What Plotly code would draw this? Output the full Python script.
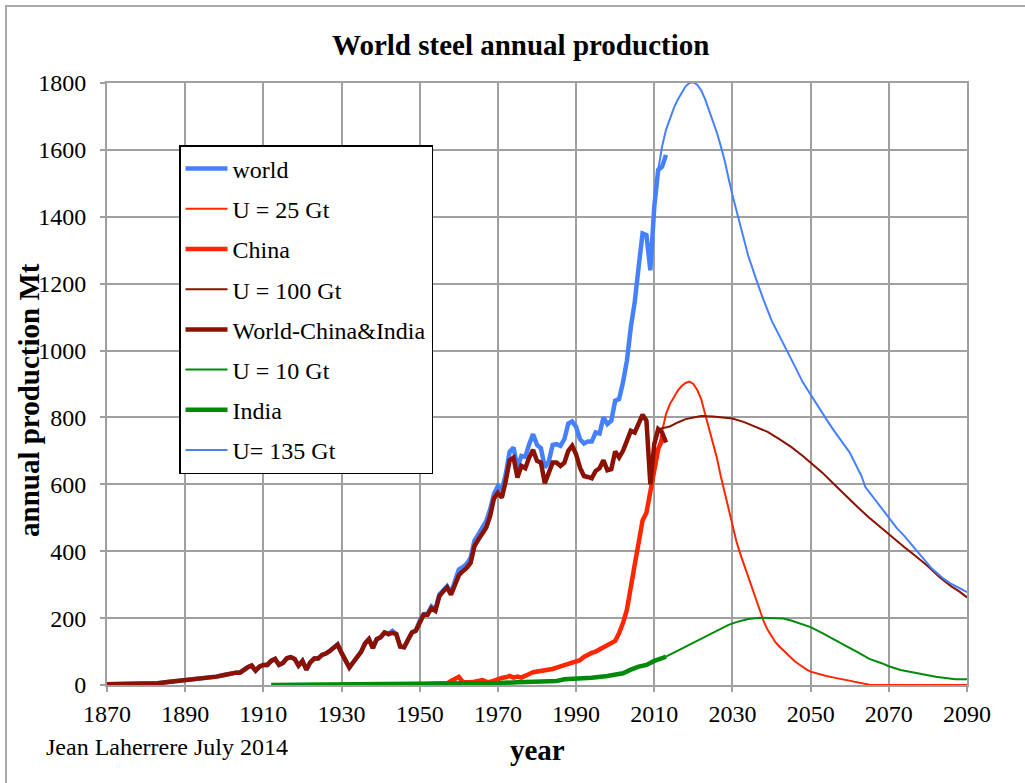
import plotly.graph_objects as go

# ---- historical production (Mt) ----
world_years = [1870, 1875, 1880, 1883, 1885, 1890, 1895, 1898, 1900, 1901, 1902, 1903, 1904, 1905,
               1906, 1907, 1908, 1909, 1910, 1911, 1912, 1913, 1914, 1915, 1916, 1917, 1918, 1919,
               1920, 1921, 1922, 1923, 1924, 1925, 1926, 1927, 1928, 1929, 1930, 1931, 1932, 1933,
               1934, 1935, 1936, 1937, 1938, 1939, 1940, 1941, 1942, 1943, 1944, 1945, 1946, 1947,
               1948, 1949, 1950, 1951, 1952, 1953, 1954, 1955, 1956, 1957, 1958, 1959, 1960, 1961,
               1962, 1963, 1964, 1965, 1966, 1967, 1968, 1969, 1970, 1971, 1972, 1973, 1974, 1975,
               1976, 1977, 1978, 1979, 1980, 1981, 1982, 1983, 1984, 1985, 1986, 1987, 1988, 1989,
               1990, 1991, 1992, 1993, 1994, 1995, 1996, 1997, 1998, 1999, 2000, 2001, 2002, 2003,
               2004, 2005, 2006, 2007, 2008, 2009, 2010, 2011, 2012, 2013]
world = [2, 2, 3, 5, 8, 14, 20, 25, 30, 33, 36, 37, 37, 46,
         53, 58, 43, 55, 60, 60, 72, 78, 60, 66, 80, 83, 78, 58,
         72, 46, 68, 79, 79, 90, 94, 102, 111, 121, 96, 70, 52, 68,
         83, 99, 124, 137, 110, 137, 143, 157, 152, 162, 153, 115, 113, 137,
         157, 163, 192, 212, 213, 235, 225, 270, 285, 295, 275, 310, 345, 352,
         362, 380, 432, 450, 470, 490, 525, 572, 595, 582, 630, 697, 710, 650,
         685, 682, 720, 750, 718, 708, 650, 668, 718, 720, 715, 735, 782, 788,
         772, 735, 722, 728, 728, 755, 752, 800, 780, 790, 850, 855, 905, 970,
         1070, 1145, 1250, 1350, 1345, 1240, 1430, 1540, 1550, 1585]

rest_years = world_years
rest = [2, 2, 3, 5, 8, 14, 20, 25, 30, 33, 36, 37, 37, 46,
        53, 58, 43, 55, 60, 60, 72, 78, 60, 66, 80, 83, 78, 58,
        72, 46, 68, 79, 79, 90, 94, 102, 111, 121, 96, 70, 52, 68,
        83, 99, 124, 137, 110, 137, 143, 157, 152, 156, 152, 115, 113, 137,
        157, 162, 190, 210, 210, 230, 222, 265, 280, 292, 270, 300, 328, 340,
        350, 365, 415, 435, 450, 470, 505, 558, 575, 560, 610, 672, 680, 620,
        655, 648, 680, 703, 670, 665, 603, 635, 665, 665, 655, 665, 700, 715,
        690, 650, 625, 622, 618, 640, 648, 672, 642, 645, 698, 680, 700, 730,
        760, 755, 780, 808, 790, 600, 720, 765, 755, 725]

china_years = [1949, 1955, 1957, 1958, 1959, 1960, 1961, 1962, 1963, 1964, 1965, 1966, 1967, 1968,
               1969, 1970, 1971, 1972, 1973, 1974, 1975, 1976, 1977, 1978, 1979, 1980, 1981, 1982,
               1983, 1984, 1985, 1986, 1987, 1988, 1989, 1990, 1991, 1992, 1993, 1994, 1995, 1996,
               1997, 1998, 1999, 2000, 2001, 2002, 2003, 2004, 2005, 2006, 2007, 2008, 2009, 2010,
               2011, 2012, 2013]
china = [1, 3, 5, 12, 18, 24, 9, 7, 8, 10, 12, 15, 10, 9,
         13, 18, 21, 23, 27, 22, 25, 22, 26, 33, 38, 40, 39, 41,
         45, 48, 52, 56, 61, 64, 66, 70, 74, 84, 92, 96, 100, 106,
         112, 118, 126, 132, 155, 185, 225, 285, 360, 425, 492, 515, 580, 640,
         705, 732, 740]

india_years = [1912, 1920, 1930, 1940, 1950, 1955, 1960, 1965, 1970, 1975, 1980, 1985, 1987, 1990,
               1994, 1998, 2000, 2002, 2004, 2006, 2008, 2010, 2012, 2013]
india = [0, 1, 1, 1, 2, 2, 3, 6, 6, 8, 10, 12, 17, 18,
         22, 27, 30, 35, 46, 55, 60, 72, 80, 85]

# ---- Hubbert-type forecasts (Mt) ----
u25_years = [2011, 2012, 2013, 2014, 2015, 2016, 2017, 2018, 2019, 2020, 2021, 2022, 2023, 2024,
             2025, 2026, 2027, 2028, 2029, 2030, 2031, 2032, 2033, 2034, 2035, 2036, 2037, 2038,
             2039, 2040, 2041, 2042, 2043, 2044, 2045, 2046, 2047, 2048, 2049, 2050, 2052, 2054,
             2056, 2058, 2060, 2062, 2064, 2065, 2070, 2080, 2090]
u25 = [705, 760, 810, 840, 862, 880, 894, 903, 907, 900, 882, 855, 810, 768,
       730, 680, 625, 575, 522, 472, 430, 392, 358, 324, 290, 258, 222, 190,
       165, 145, 128, 115, 104, 92, 80, 70, 62, 53, 46, 40, 33, 27,
       22, 17, 13, 8, 3, 1, 0, 0, 0]

u100_years = [2011, 2012, 2014, 2016, 2018, 2020, 2022, 2025, 2028, 2030, 2033, 2036, 2039, 2042,
              2045, 2048, 2050, 2053, 2056, 2059, 2062, 2065, 2068, 2071, 2074, 2077, 2080, 2083,
              2086, 2088, 2090]
u100 = [765, 768, 773, 785, 795, 800, 804, 803, 800, 797, 786, 772, 757, 735,
        712, 685, 665, 635, 600, 565, 532, 500, 470, 440, 412, 384, 355, 322,
        295, 280, 262]

u10_years = [2013, 2015, 2018, 2020, 2023, 2026, 2029, 2031, 2034, 2037, 2040, 2043, 2045, 2048,
             2050, 2053, 2056, 2059, 2062, 2065, 2068, 2070, 2073, 2076, 2079, 2082, 2085, 2087,
             2090]
u10 = [85, 97, 115, 126, 145, 163, 180, 188, 197, 201, 201, 199, 193, 180,
       173, 155, 135, 117, 98, 78, 66, 56, 45, 38, 30, 25, 20, 17,
       17]

u135_years = [2011, 2012, 2013, 2014, 2015, 2016, 2017, 2018, 2019, 2020, 2021, 2022, 2023, 2024,
              2025, 2026, 2027, 2028, 2029, 2030, 2032, 2034, 2036, 2037, 2038, 2040, 2042, 2044,
              2046, 2048, 2050, 2052, 2054, 2056, 2058, 2060, 2062, 2063, 2064, 2066, 2069, 2072,
              2074, 2077, 2080, 2081, 2084, 2086, 2088, 2090]
u135 = [1540, 1610, 1660, 1695, 1725, 1750, 1772, 1790, 1800, 1802, 1795, 1778, 1752, 1720,
        1688, 1652, 1612, 1568, 1515, 1465, 1375, 1285, 1215, 1182, 1150, 1090, 1045, 1000,
        952, 905, 868, 828, 795, 760, 728, 695, 648, 625, 592, 562, 515, 470,
        445, 404, 362, 348, 318, 302, 290, 278]

BLUE = "#4581FF"
RED = "#FF2600"
BROWN = "#8B1100"
GREEN = "#008A0A"
SERIF = "Liberation Serif"

series = [
    ("world", world_years, world, BLUE, 4.5),
    ("U = 25 Gt", u25_years, u25, RED, 2),
    ("China", china_years, china, RED, 4.5),
    ("U = 100 Gt", u100_years, u100, BROWN, 2),
    ("World-China&India", rest_years, rest, BROWN, 4.5),
    ("U = 10 Gt", u10_years, u10, GREEN, 2),
    ("India", india_years, india, GREEN, 4.5),
    ("U= 135 Gt", u135_years, u135, BLUE, 2),
]

fig = go.Figure()
for i, (name, xs, ys, color, width) in enumerate(series):
    fig.add_trace(go.Scatter(
        x=xs, y=ys, name=name, mode="lines", legendgroup=f"g{i}",
        line=dict(color=color, width=width),
    ))

# plot area in pixels: x 107..967, y 83..685
W, H = 1025, 783
L, R, T, B = 107, 58, 83, 98
pw, ph = W - L - R, H - T - B


def px(x):
    return (x - L) / pw


def py(y):
    return (H - B - y) / ph


grid = "#A0A0A0"
TICKFONT = dict(family=SERIF, size=24, color="black")
fig.update_layout(
    width=W, height=H,
    margin=dict(l=L, r=R, t=T, b=B, autoexpand=False),
    paper_bgcolor="white", plot_bgcolor="white",
    font=dict(family=SERIF, size=24, color="black"),
    showlegend=True,
    legend=dict(
        x=px(179), y=py(145), xanchor="left", yanchor="top",
        bgcolor="white", bordercolor="black", borderwidth=1.5,
        font=dict(family=SERIF, size=24, color="black"),
        tracegroupgap=6, itemwidth=42,
    ),
    xaxis=dict(
        range=[1870, 2090], tickmode="linear", tick0=1870, dtick=20,
        showgrid=True, gridcolor=grid, gridwidth=2,
        showline=True, linecolor=grid, linewidth=2, mirror=True,
        ticks="outside", ticklen=5, tickcolor=grid, tickwidth=2,
        ticklabelstandoff=1, zeroline=False, tickfont=TICKFONT,
    ),
    yaxis=dict(
        range=[0, 1800], tickmode="linear", tick0=0, dtick=200,
        showgrid=True, gridcolor=grid, gridwidth=2,
        showline=True, linecolor=grid, linewidth=2, mirror=True,
        ticks="outside", ticklen=5, tickcolor=grid, tickwidth=2,
        ticklabelstandoff=9, zeroline=False, tickfont=TICKFONT,
    ),
    shapes=[dict(
        type="rect", xref="paper", yref="paper",
        x0=px(6), x1=px(1040), y0=py(800), y1=py(6),
        line=dict(color="#A8A8A8", width=2), fillcolor="rgba(0,0,0,0)", layer="below",
    )],
    annotations=[
        dict(text="<b>World steel annual production</b>", xref="paper", yref="paper",
             x=px(520), y=py(45), xanchor="center", yanchor="middle", showarrow=False,
             font=dict(family=SERIF, size=29, color="black")),
        dict(text="<b>annual production Mt</b>", xref="paper", yref="paper",
             x=px(29), y=py(400), xanchor="center", yanchor="middle", showarrow=False,
             textangle=-90, font=dict(family=SERIF, size=29, color="black")),
        dict(text="<b>year</b>", xref="paper", yref="paper",
             x=px(537), y=py(750), xanchor="center", yanchor="middle", showarrow=False,
             font=dict(family=SERIF, size=29, color="black")),
        dict(text="Jean Laherrere July 2014", xref="paper", yref="paper",
             x=px(44), y=py(747), xanchor="left", yanchor="middle", showarrow=False,
             font=dict(family=SERIF, size=24, color="black")),
    ],
)

fig.write_html("out.html")
